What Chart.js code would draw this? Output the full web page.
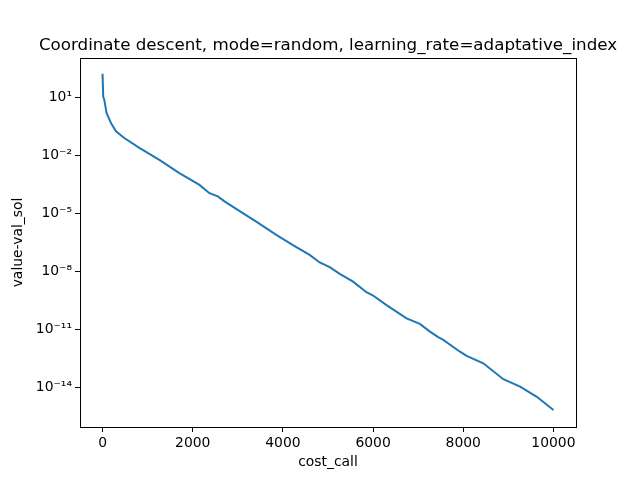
<!DOCTYPE html>
<html>
<head>
<meta charset="utf-8">
<script src="https://cdn.jsdelivr.net/npm/chart.js@4"></script>
<style>
  html, body { margin: 0; padding: 0; background: #fff; }
</style>
</head>
<body>
<canvas id="chart" width="640" height="480"></canvas>
<script>
// data
const costCalls = [0, 15, 38, 89, 187, 298, 482, 816, 1260, 1704, 2149, 2371, 2556, 2704,
    3111, 3409, 3853, 4222, 4593, 4816, 5038, 5260, 5556, 5853, 6000, 6298, 6742, 7038,
    7260, 7444, 7556, 7927, 8076, 8444, 8889, 9260, 9631, 10000];
const values = [1.7e2, 1.1e1, 7.8e0, 1.6e0, 4.8e-1, 1.8e-1, 8.1e-2, 2.5e-2, 6e-3, 1.23e-3,
    3e-4, 1.12e-4, 7.6e-5, 4.2e-5, 1.05e-5, 3.8e-6, 7.8e-7, 2.3e-7, 7.1e-8, 2.9e-8, 1.66e-8,
    7.4e-9, 2.95e-9, 8.3e-10, 5.6e-10, 1.8e-10, 3.7e-11, 1.9e-11, 7.6e-12, 3.9e-12, 2.8e-12,
    6.9e-13, 4.2e-13, 1.74e-13, 2.6e-14, 1.07e-14, 3.2e-15, 6.6e-16];
const xTicks = [0, 2000, 4000, 6000, 8000, 10000];
const yTicks = [1e1, 1e-2, 1e-5, 1e-8, 1e-11, 1e-14];
const yTickLabels = ["10\u00b9", "10\u207b\u00b2", "10\u207b\u2075", "10\u207b\u2078", "10\u207b\u00b9\u00b9", "10\u207b\u00b9\u2074"];
const titleText = "Coordinate descent, mode=random, learning_rate=adaptative_index";

const FONT = "'DejaVu Sans', sans-serif";

// cadre + titre centré sur la zone du graphique
const frame = {
    id: "frame",
    afterDraw(chart) {
        const a = chart.chartArea;
        const ctx = chart.ctx;
        ctx.save();
        ctx.strokeStyle = "#000";
        ctx.lineWidth = 1;
        ctx.strokeRect(Math.round(a.left) + 0.5, Math.round(a.top) + 0.5,
            Math.round(a.right - a.left), Math.round(a.bottom - a.top));
        ctx.fillStyle = "#000";
        ctx.font = "16.7px " + FONT;
        ctx.textAlign = "center";
        ctx.textBaseline = "alphabetic";
        ctx.fillText(titleText, (a.left + a.right) / 2, a.top - 8);
        ctx.restore();
    }
};

const chart = new Chart(document.getElementById("chart"), {
    type: "line",
    data: {
        datasets: [{
            data: costCalls.map((c, i) => ({ x: c, y: values[i] })),
            borderColor: "#1f77b4",
            borderWidth: 2,
            pointRadius: 0,
            tension: 0,
            fill: false
        }]
    },
    options: {
        responsive: false,
        animation: false,
        devicePixelRatio: 1,
        layout: { padding: { top: 58, right: 64, left: 0, bottom: 0 } },
        plugins: {
            legend: { display: false },
            tooltip: { enabled: false },
            title: { display: false }
        },
        scales: {
            x: {
                type: "linear",
                min: -500,
                max: 10500,
                afterFit: s => { s.height = 53; },
                afterBuildTicks: s => { s.ticks = xTicks.map(v => ({ value: v })); },
                grid: { drawOnChartArea: false, drawTicks: true, tickLength: 5, color: "#000" },
                border: { display: false },
                ticks: {
                    color: "#000",
                    padding: 3,
                    maxRotation: 0,
                    font: { family: FONT, size: 13.9 },
                    callback: v => String(v)
                },
                title: {
                    display: true,
                    text: "cost_call",
                    color: "#000",
                    font: { family: FONT, size: 13.9 },
                    padding: { top: 4, bottom: 9 }
                }
            },
            y: {
                type: "logarithmic",
                min: Math.pow(10, -16.06),
                max: Math.pow(10, 3.05),
                afterFit: s => { s.width = 80; },
                afterBuildTicks: s => { s.ticks = yTicks.map(v => ({ value: v })); },
                grid: { drawOnChartArea: false, drawTicks: true, tickLength: 5, color: "#000" },
                border: { display: false },
                ticks: {
                    color: "#000",
                    padding: 3,
                    font: { family: FONT, size: 13.9 },
                    callback: (v, i) => yTickLabels[i]
                },
                title: {
                    display: true,
                    text: "value-val_sol",
                    color: "#000",
                    font: { family: FONT, size: 13.9 },
                    padding: { top: 10, bottom: 4 }
                }
            }
        }
    },
    plugins: [frame]
});
</script>
</body>
</html>
